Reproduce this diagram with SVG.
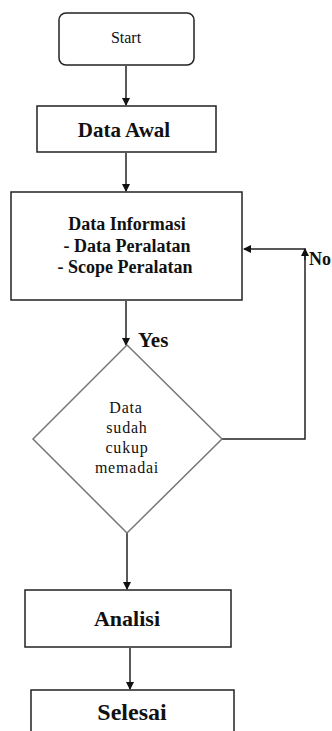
<svg xmlns="http://www.w3.org/2000/svg" width="332" height="731" viewBox="0 0 332 731">
<style>
.box{fill:#fff;stroke:#222;stroke-width:1.5}
.dia{fill:#fff;stroke:#777;stroke-width:1.5}
.ln{fill:none;stroke:#222;stroke-width:1.5}
text{font-family:'Liberation Serif','Times New Roman','DejaVu Serif',serif;fill:#111;text-anchor:middle}
.b{font-weight:bold}
</style>
<defs>
<marker id="ah" markerWidth="8" markerHeight="8" refX="7" refY="4" orient="auto" markerUnits="userSpaceOnUse">
<path d="M0,0 L8,4 L0,8 Z" fill="#111"/>
</marker>
</defs>
<rect width="332" height="731" fill="#fff"/>
<g id="connectors">
<line class="ln" x1="126" y1="66" x2="126" y2="105" marker-end="url(#ah)"/>
<line class="ln" x1="126" y1="153" x2="126" y2="191" marker-end="url(#ah)"/>
<line class="ln" x1="126" y1="301" x2="126" y2="345" marker-end="url(#ah)"/>
<line class="ln" x1="127" y1="533" x2="127" y2="589" marker-end="url(#ah)"/>
<line class="ln" x1="130" y1="648" x2="130" y2="689" marker-end="url(#ah)"/>
<polyline class="ln" points="222,439 305,439 305,249 244,249" marker-end="url(#ah)"/>
<line class="ln" x1="305" y1="260" x2="305" y2="249" marker-end="url(#ah)"/>
<text class="b" x="138" y="347" font-size="21" style="text-anchor:start">Yes</text>
<text class="b" x="309" y="265" font-size="18" style="text-anchor:start">No</text>
</g>
<g id="start">
<rect class="box" x="59" y="13" width="135" height="52" rx="7"/>
<text x="126" y="43" font-size="16">Start</text>
</g>
<g id="data-awal">
<rect class="box" x="37" y="106" width="179" height="46"/>
<text class="b" x="124" y="137" font-size="21">Data Awal</text>
</g>
<g id="data-informasi">
<rect class="box" x="11" y="192" width="231" height="108"/>
<text class="b" x="127" y="230" font-size="18">Data Informasi</text>
<text class="b" x="127" y="252" font-size="18">- Data Peralatan</text>
<text class="b" x="125" y="273" font-size="18">- Scope Peralatan</text>
</g>
<g id="decision">
<polygon class="dia" points="127,345 222,439 127,533 33,439"/>
<text x="126" y="413" font-size="16" letter-spacing="0.8">Data</text>
<text x="127" y="433" font-size="16" letter-spacing="0.8">sudah</text>
<text x="127" y="453" font-size="16" letter-spacing="0.8">cukup</text>
<text x="127" y="473" font-size="16" letter-spacing="0.8">memadai</text>
</g>
<g id="analisi">
<rect class="box" x="25" y="590" width="206" height="57"/>
<text class="b" x="127" y="626" font-size="22">Analisi</text>
</g>
<g id="selesai">
<rect class="box" x="31" y="690" width="203" height="50"/>
<text class="b" x="132" y="720" font-size="24">Selesai</text>
</g>
</svg>
